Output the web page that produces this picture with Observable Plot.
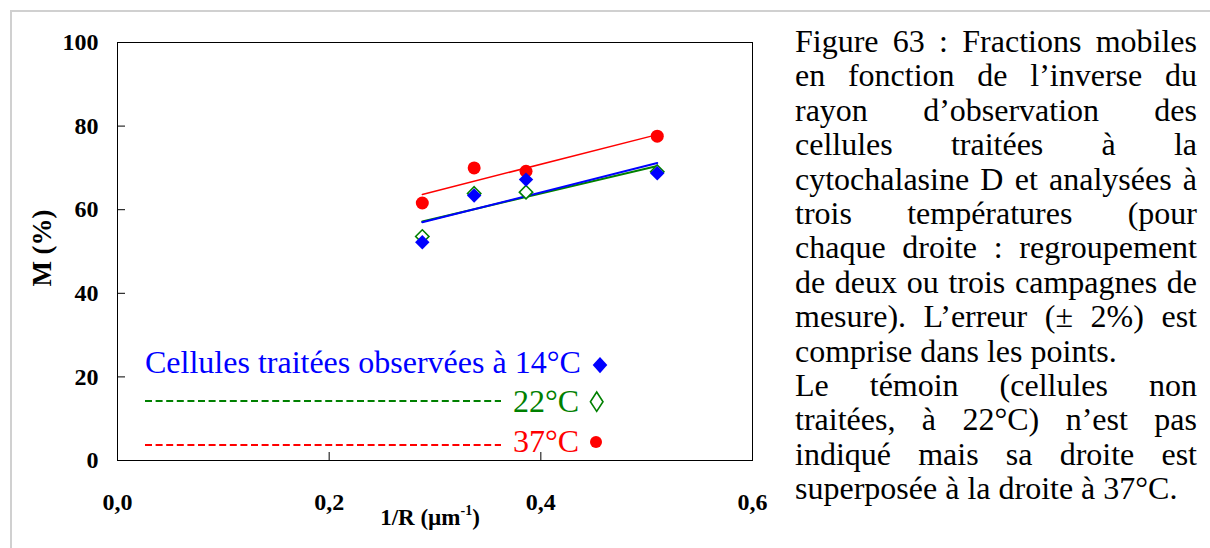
<!DOCTYPE html>
<html><head><meta charset="utf-8">
<script src="https://cdn.jsdelivr.net/npm/d3@7"></script>
<script src="https://cdn.jsdelivr.net/npm/@observablehq/plot@0.6"></script>
<style>
body{margin:0;background:#fff;width:1210px;height:548px;overflow:hidden;position:relative;font-family:"Liberation Serif","Times New Roman",serif;}
#border{position:absolute;left:10px;top:10px;width:1300px;height:600px;border-left:2px solid #d0d0d0;border-top:2px solid #d0d0d0;}
#chart{position:absolute;left:0;top:0;}
#caption{position:absolute;left:795px;top:24px;width:402px;font-family:"Liberation Serif",serif;font-size:32px;line-height:34.4px;color:#000;}
#caption div{white-space:nowrap;}
#caption .j{text-align:justify;text-align-last:justify;}
#caption .l{text-align:left;}
</style>
</head><body>
<div id="border"></div>
<div id="chart"></div>
<div id="caption"></div>
<script>
// ---- data ----
const invR = [0.288, 0.337, 0.386, 0.510];          // 1/R (µm^-1)
const m14 = [52.2, 63.4, 67.2, 68.7];               // M (%) at 14°C
const m22 = [53.6, 63.9, 64.2, 69.1];               // M (%) at 22°C
const m37 = [61.6, 70.0, 69.2, 77.6];               // M (%) at 37°C
const xTicks = [0, 0.2, 0.4, 0.6];
const xTickLabels = ["0,0", "0,2", "0,4", "0,6"];
const yTicks = [0, 20, 40, 60, 80, 100];
const seriesLabels = ["Cellules traitées observées à 14°C", "22°C", "37°C"];
const xLabel = "1/R (µm";
const xLabelSup = "-1";
const yLabel = "M (%)";
const captionLines = [
  ["Figure 63\u00a0: Fractions mobiles", "j"],
  ["en fonction de l’inverse du", "j"],
  ["rayon d’observation des", "j"],
  ["cellules traitées à la", "j"],
  ["cytochalasine D et analysées à", "j"],
  ["trois températures (pour", "j"],
  ["chaque droite\u00a0: regroupement", "j"],
  ["de deux ou trois campagnes de", "j"],
  ["mesure). L’erreur (± 2%) est", "j"],
  ["comprise dans les points.", "l"],
  ["Le témoin (cellules non", "j"],
  ["traitées, à 22°C) n’est pas", "j"],
  ["indiqué mais sa droite est", "j"],
  ["superposée à la droite à 37°C.", "l"]
];

const rows = invR.map((x, i) => ({x, m14: m14[i], m22: m22[i], m37: m37[i]}));
const innerX = xTicks.filter(t => t > xTicks[0] && t < xTicks[xTicks.length - 1]);
const innerY = yTicks.filter(t => t > yTicks[0] && t < yTicks[yTicks.length - 1]);

const BLUE = "#0000ff", GREEN = "#008000", RED = "#ff0000";
const serif = "'Liberation Serif', 'Times New Roman', serif";

const W = 780, H = 548, mL = 117, mR = 28, mT = 42, mB = 88;
const plotW = W - mL - mR, plotH = H - mT - mB;

const chart = Plot.plot({
  width: W, height: H,
  marginLeft: mL, marginRight: mR, marginTop: mT, marginBottom: mB,
  style: {fontFamily: serif, background: "transparent", color: "#000", overflow: "visible"},
  x: {domain: [0, 0.6]},
  y: {domain: [0, 100]},
  marks: [
    Plot.tickX(innerX, {x: d => d, insetTop: plotH - 8, stroke: "#000", strokeWidth: 1}),
    Plot.tickY(innerY, {y: d => d, insetRight: plotW - 8, stroke: "#000", strokeWidth: 1}),
    Plot.axisX(xTicks, {tickSize: 0, tickPadding: 32, tickFormat: d => xTickLabels[xTicks.indexOf(d)],
      fontSize: 24, fontWeight: "bold", fontFamily: serif, label: null}),
    Plot.axisY(yTicks, {tickSize: 0, tickPadding: 19, fontSize: 24, fontWeight: "bold", fontFamily: serif, label: null}),
    Plot.linearRegressionY(rows, {x: "x", y: "m22", stroke: GREEN, strokeWidth: 2, ci: 0}),
    Plot.linearRegressionY(rows, {x: "x", y: "m14", stroke: BLUE, strokeWidth: 2, ci: 0}),
    Plot.linearRegressionY(rows, {x: "x", y: "m37", stroke: RED, strokeWidth: 1.5, ci: 0}),
    Plot.dot(rows, {x: "x", y: "m37", r: 6.5, fill: RED, stroke: "none"}),
    Plot.dot(rows, {x: "x", y: "m22", symbol: "diamond2", r: 6, fill: "white", stroke: GREEN, strokeWidth: 1.6}),
    Plot.dot(rows, {x: "x", y: "m14", symbol: "diamond2", r: 6.5, fill: BLUE, stroke: "none"}),
    Plot.frame({stroke: "#000", strokeWidth: 1})
  ]
});
document.getElementById("chart").appendChild(chart);

const svg = d3.select(chart);
// axis titles
svg.append("text")
  .attr("transform", "translate(42,248) rotate(-90)")
  .attr("text-anchor", "middle").attr("dominant-baseline", "central")
  .attr("font-family", serif).attr("font-size", 27).attr("font-weight", "bold")
  .text(yLabel);
const xl = svg.append("text")
  .attr("x", 430).attr("y", 525).attr("text-anchor", "middle")
  .attr("font-family", serif).attr("font-size", 23).attr("font-weight", "bold");
xl.append("tspan").text(xLabel);
xl.append("tspan").attr("dy", -10).attr("font-size", 14).text(xLabelSup);
xl.append("tspan").attr("dy", 10).text(")");

// legend (in-plot text box)
const lg = svg.append("g").attr("font-family", serif).attr("font-size", 32).attr("text-anchor", "start");
lg.append("text").attr("x", 145).attr("y", 373).attr("fill", BLUE).text(seriesLabels[0]);
lg.append("path").attr("d", "M600,357 L607.3,365 L600,373.3 L592.7,365 Z").attr("fill", BLUE);
lg.append("line").attr("x1", 145).attr("x2", 501).attr("y1", 401).attr("y2", 401)
  .attr("stroke", GREEN).attr("stroke-width", 2).attr("stroke-dasharray", "7,3.6");
lg.append("text").attr("x", 513).attr("y", 412).attr("fill", GREEN).text(seriesLabels[1]);
lg.append("path").attr("d", "M596.7,392 L603,401.7 L596.7,411.4 L590.4,401.7 Z")
  .attr("fill", "none").attr("stroke", GREEN).attr("stroke-width", 1.6);
lg.append("line").attr("x1", 145).attr("x2", 501).attr("y1", 445).attr("y2", 445)
  .attr("stroke", RED).attr("stroke-width", 2).attr("stroke-dasharray", "7,3.6");
lg.append("text").attr("x", 513).attr("y", 452).attr("fill", RED).text(seriesLabels[2]);
lg.append("circle").attr("cx", 596).attr("cy", 442).attr("r", 6).attr("fill", RED);

// caption
const cap = d3.select("#caption");
captionLines.forEach(([t, c]) => cap.append("div").attr("class", c).text(t));
</script>
</body></html>
